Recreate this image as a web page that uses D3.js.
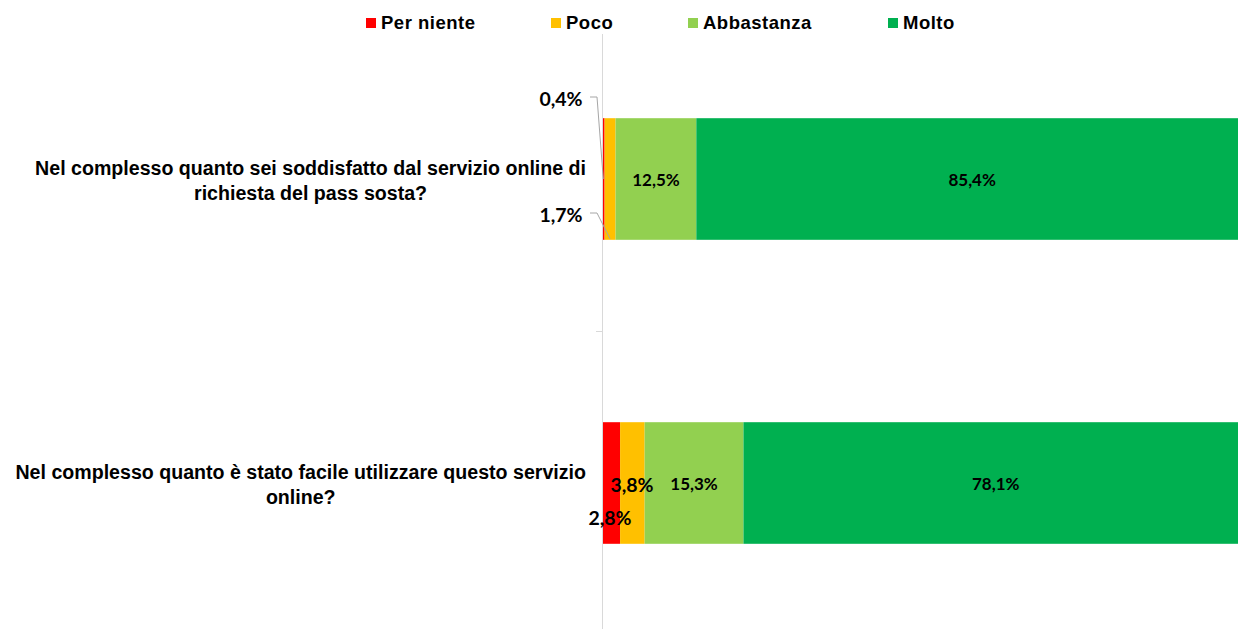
<!DOCTYPE html>
<html>
<head>
<meta charset="utf-8">
<script src="https://cdn.jsdelivr.net/npm/d3@7"></script>
<style>
  body { margin: 0; background: #fff; }
  svg { display: block; }
</style>
</head>
<body>
<div id="chart"></div>
<script>
const categories = ["soddisfatto", "facile"];
const categoryLines = [
  ["Nel complesso quanto sei soddisfatto dal servizio online di", "richiesta del pass sosta?"],
  ["Nel complesso quanto è stato facile utilizzare questo servizio", "online?"]
];
const seriesNames = ["Per niente", "Poco", "Abbastanza", "Molto"];
const seriesColors = ["#FF0000", "#FFC000", "#92D050", "#00B050"];
const perNiente = [0.4, 2.8];
const poco = [1.7, 3.8];
const abbastanza = [12.5, 15.3];
const molto = [85.4, 78.1];

const width = 1238, height = 629;
const svg = d3.select("#chart").append("svg")
  .attr("width", width).attr("height", height);

const rows = categories.map((c, i) => ({
  cat: c,
  "Per niente": perNiente[i],
  "Poco": poco[i],
  "Abbastanza": abbastanza[i],
  "Molto": molto[i]
}));
const stacked = d3.stack().keys(seriesNames)(rows);

const x = d3.scaleLinear().domain([0, 100]).range([602, 1248]);
const y = d3.scaleBand().domain(categories).range([27, 635])
  .paddingInner(0.6).paddingOuter(0.3);

// bars
stacked.forEach((s, si) => {
  svg.append("g").selectAll("rect")
    .data(s)
    .join("rect")
    .attr("x", d => x(d[0]))
    .attr("y", d => y(d.data.cat))
    .attr("width", d => x(d[1]) - x(d[0]))
    .attr("height", y.bandwidth())
    .attr("fill", seriesColors[si]);
});

// axis line + ticks at category boundaries
const axisG = svg.append("g");
axisG.append("line")
  .attr("x1", x(0) + 0.5).attr("x2", x(0) + 0.5)
  .attr("y1", 34).attr("y2", height)
  .attr("stroke", "#d9d9d9").attr("stroke-width", 1);
const boundary = y(categories[1]) - y.step() * y.paddingInner() / 2;
axisG.append("line")
  .attr("x1", x(0) - 6).attr("x2", x(0))
  .attr("y1", boundary + 0.5).attr("y2", boundary + 0.5)
  .attr("stroke", "#d9d9d9");

// category labels (lines centred inside a right-aligned box)
const labelRight = 586;
categories.forEach((c, i) => {
  const cy = y(c) + y.bandwidth() / 2;
  const lines = categoryLines[i];
  const g = svg.append("g");
  const texts = lines.map((ln, li) => g.append("text")
    .attr("y", cy + 1.5 + (li - (lines.length - 1) / 2) * 25)
    .attr("dy", "0.35em")
    .attr("font-family", "Liberation Sans, Arial, sans-serif")
    .attr("font-weight", "bold")
    .attr("font-size", 19.6)
    .attr("fill", "#000")
    .attr("text-anchor", "middle")
    .text(ln));
  const widths = texts.map(t => t.node().getComputedTextLength());
  const boxW = d3.max(widths);
  texts.forEach(t => t.attr("x", labelRight - boxW / 2));
});

// data labels
const fmt = v => v.toFixed(1).replace(".", ",") + "%";
const labelFont = "Lato, Calibri, sans-serif";
// special placements for narrow segments: [series, category] -> offsets
const outside = {
  "0-0": { lx: 561, ly: 99, elbow: [590, 97], anchorY: 0.5 },
  "1-0": { lx: 561, ly: 215, elbow: [590, 213], anchorY: 1.0 }
};
const shifted = {
  "1-1": { dx: 632, dy: 485 },
  "0-1": { dx: 610, dy: 518 }
};

stacked.forEach((s, si) => {
  s.forEach((d, ci) => {
    const key = si + "-" + ci;
    const v = d[1] - d[0];
    const cx = (x(d[0]) + x(d[1])) / 2;
    const cy = y(d.data.cat) + y.bandwidth() / 2;
    if (outside[key]) {
      const o = outside[key];
      svg.append("text")
        .attr("x", o.lx).attr("y", o.ly)
        .attr("dy", "0.35em")
        .attr("text-anchor", "middle")
        .attr("font-family", labelFont).attr("font-weight", "bold")
        .attr("font-size", 19.5).attr("fill", "#000")
        .text(fmt(v));
      const ty = y(d.data.cat) + y.bandwidth() * o.anchorY - (o.anchorY === 1 ? 1 : 0);
      svg.append("polyline")
        .attr("points", `${o.elbow[0]},${o.elbow[1]} ${o.elbow[0] + 7},${o.elbow[1]} ${cx},${ty}`)
        .attr("fill", "none").attr("stroke", "#a6a6a6").attr("stroke-width", 1);
    } else if (shifted[key]) {
      const o = shifted[key];
      svg.append("text")
        .attr("x", o.dx).attr("y", o.dy)
        .attr("dy", "0.35em")
        .attr("text-anchor", "middle")
        .attr("font-family", labelFont).attr("font-weight", "bold")
        .attr("font-size", 19.5).attr("fill", "#000")
        .text(fmt(v));
    } else {
      svg.append("text")
        .attr("x", cx).attr("y", cy + 1)
        .attr("dy", "0.35em")
        .attr("text-anchor", "middle")
        .attr("font-family", labelFont).attr("font-weight", "bold")
        .attr("font-size", 17).attr("fill", "#000")
        .text(fmt(v));
    }
  });
});

// legend
const legendX = [366, 551, 688, 888];
const legend = svg.append("g");
seriesNames.forEach((n, i) => {
  legend.append("rect")
    .attr("x", legendX[i]).attr("y", 18)
    .attr("width", 10).attr("height", 10)
    .attr("fill", seriesColors[i]);
  legend.append("text")
    .attr("x", legendX[i] + 15).attr("y", 23)
    .attr("dy", "0.35em")
    .attr("font-family", "Liberation Sans, Arial, sans-serif")
    .attr("font-weight", "bold")
    .attr("font-size", 18.5)
    .attr("letter-spacing", 0.5)
    .attr("fill", "#000")
    .text(n);
});
</script>
</body>
</html>
